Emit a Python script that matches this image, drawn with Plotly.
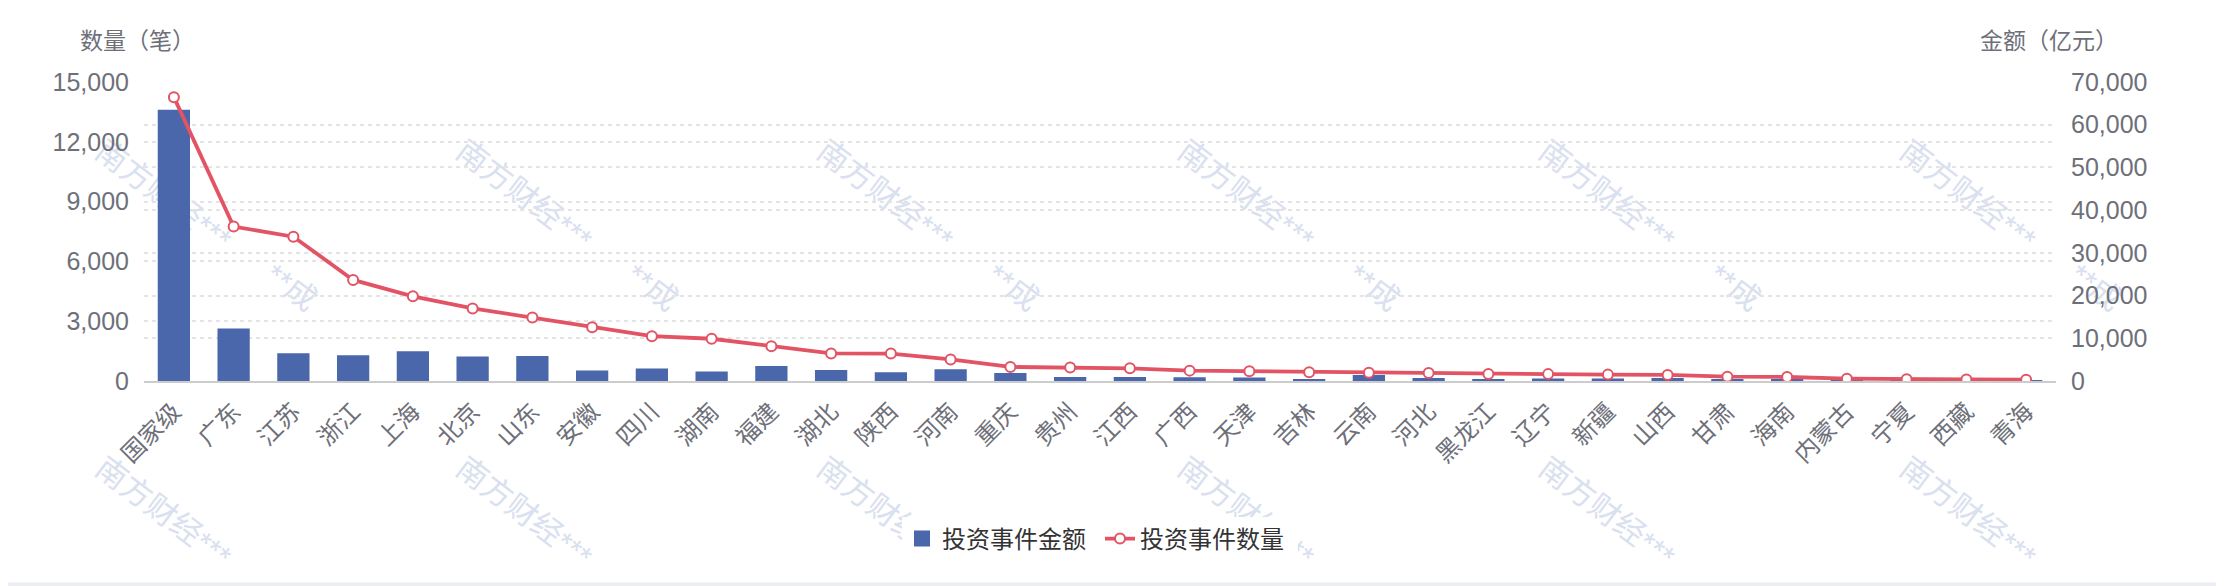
import plotly.graph_objects as go

categories = ["国家级", "广东", "江苏", "浙江", "上海", "北京", "山东", "安徽", "四川", "湖南",
              "福建", "湖北", "陕西", "河南", "重庆", "贵州", "江西", "广西", "天津", "吉林",
              "云南", "河北", "黑龙江", "辽宁", "新疆", "山西", "甘肃", "海南", "内蒙古", "宁夏",
              "西藏", "青海"]

# 投资事件金额（亿元） - bars, right axis
amount = [63500, 12300, 6500, 6030, 6970, 5720, 5870, 2440, 2910, 2200,
          3520, 2580, 2040, 2745, 1880, 940, 940, 870, 800, 470,
          1410, 700, 400, 560, 560, 700, 400, 470, 150, 60,
          50, 40]

# 投资事件数量（笔） - line, left axis
count = [14240, 7750, 7240, 5070, 4250, 3640, 3180, 2700, 2250, 2120,
         1745, 1385, 1375, 1080, 705, 680, 637, 520, 486, 436,
         419, 402, 352, 345, 320, 305, 218, 200, 117, 84,
         80, 67]

left_ticks = [0, 3000, 6000, 9000, 12000, 15000]
right_ticks = [0, 10000, 20000, 30000, 40000, 50000, 60000, 70000]

# the page body adds an 8px margin; compensate so the chart lands where the reference has it
OFF = 8
W, H = 2224 - OFF, 586 - OFF
PLOT_L, PLOT_R, PLOT_T, PLOT_B = 144, 2056.5, 82, 381   # reference pixel coords
ML, MT = PLOT_L - OFF, PLOT_T - OFF
MR = W - (PLOT_R - OFF)
MB = H - (PLOT_B - OFF)
PW, PH = PLOT_R - PLOT_L, PLOT_B - PLOT_T

def px(x):
    return (x - PLOT_L) / PW

def py(y):
    return (PLOT_B - y) / PH

FONT = "Liberation Sans, Noto Sans CJK SC, sans-serif"
BAR_C = "#4967aa"
LINE_C = "#e25464"
GRID_C = "#e4e4e4"
LABEL_C = "#6e7079"
WM_C = "#d9e0ef"

fig = go.Figure()

# legend proxy for bar (larger square symbol)
fig.add_trace(go.Scatter(
    x=[None], y=[None], mode="markers", name="投资事件金额",
    marker=dict(symbol="square", size=20, color=BAR_C),
    legendgroup="amt", yaxis="y", hoverinfo="skip"))

fig.add_trace(go.Bar(
    x=categories, y=amount, name="投资事件金额", marker=dict(color=BAR_C, line=dict(width=0)),
    legendgroup="amt", showlegend=False, yaxis="y"))

fig.add_trace(go.Scatter(
    x=categories, y=count, name="投资事件数量", mode="lines+markers",
    line=dict(color=LINE_C, width=3.8),
    marker=dict(symbol="circle", size=10, color="white", line=dict(color=LINE_C, width=2)),
    yaxis="y2"))

shapes = []
# watermarks (drawn below traces)
wm1_x = [165 + 361 * k for k in range(6)]
wm2_x = [293 + 361 * k for k in range(6)]
for row_y in (193, 510):
    for x in wm1_x:
        shapes.append(dict(type="rect", xref="paper", yref="paper",
                           x0=px(x - 1), x1=px(x + 1), y0=py(row_y + 1), y1=py(row_y - 1),
                           line=dict(width=0), fillcolor="rgba(0,0,0,0)", layer="below",
                           label=dict(text="南方财经***", textangle=37, textposition="middle center",
                                      font=dict(size=31, color=WM_C, family=FONT))))
for x in wm2_x:
    shapes.append(dict(type="rect", xref="paper", yref="paper",
                       x0=px(x - 1), x1=px(x + 1), y0=py(286), y1=py(284),
                       line=dict(width=0), fillcolor="rgba(0,0,0,0)", layer="below",
                       label=dict(text="**成", textangle=37, textposition="middle center",
                                  font=dict(size=31, color=WM_C, family=FONT))))
# bottom strip
shapes.append(dict(type="rect", xref="paper", yref="paper",
                   x0=px(0), x1=px(2230), y0=py(592), y1=py(582.5),
                   line=dict(width=0), fillcolor="#eceef2", layer="above"))

annotations = [
    dict(text="数量（笔）", xref="paper", yref="paper", x=px(137), y=py(41),
         xanchor="center", yanchor="middle", showarrow=False,
         font=dict(size=23, color=LABEL_C, family=FONT)),
    dict(text="金额（亿元）", xref="paper", yref="paper", x=px(2049), y=py(41),
         xanchor="center", yanchor="middle", showarrow=False,
         font=dict(size=23, color=LABEL_C, family=FONT)),
]

fig.update_layout(
    width=W, height=H,
    margin=dict(l=ML, r=MR, t=MT, b=MB, autoexpand=False),
    paper_bgcolor="white", plot_bgcolor="rgba(0,0,0,0)",
    font=dict(family=FONT, color=LABEL_C),
    bargap=0.46,
    showlegend=True,
    legend=dict(orientation="h", x=0.5, xanchor="center", y=py(539), yanchor="middle",
                font=dict(size=24, color="#333333", family=FONT), traceorder="normal",
                itemwidth=30, entrywidth=153, entrywidthmode="pixels"),
    xaxis=dict(type="category", categoryorder="array", categoryarray=categories,
               range=[-0.5, len(categories) - 0.5],
               showline=True, linecolor="#cccccc", linewidth=2, ticks="",
               tickangle=-45, tickfont=dict(size=24, color=LABEL_C, family=FONT),
               showgrid=False, zeroline=False, ticklabelstandoff=5),
    yaxis=dict(side="right", range=[0, 70000], tickvals=right_ticks, tickformat=",",
               showgrid=True, gridcolor=GRID_C, gridwidth=1.5, griddash="4px,4px",
               zeroline=False, showline=False, ticks="",
               tickfont=dict(size=25, color=LABEL_C, family=FONT), ticklabelstandoff=14),
    yaxis2=dict(side="left", overlaying="y", range=[0, 15000], tickvals=left_ticks, tickformat=",",
                showgrid=True, gridcolor=GRID_C, gridwidth=1.5, griddash="4px,4px",
                zeroline=False, showline=False, ticks="",
                tickfont=dict(size=25, color=LABEL_C, family=FONT), ticklabelstandoff=14),
    shapes=shapes,
    annotations=annotations,
)

fig.write_html("out.html")
